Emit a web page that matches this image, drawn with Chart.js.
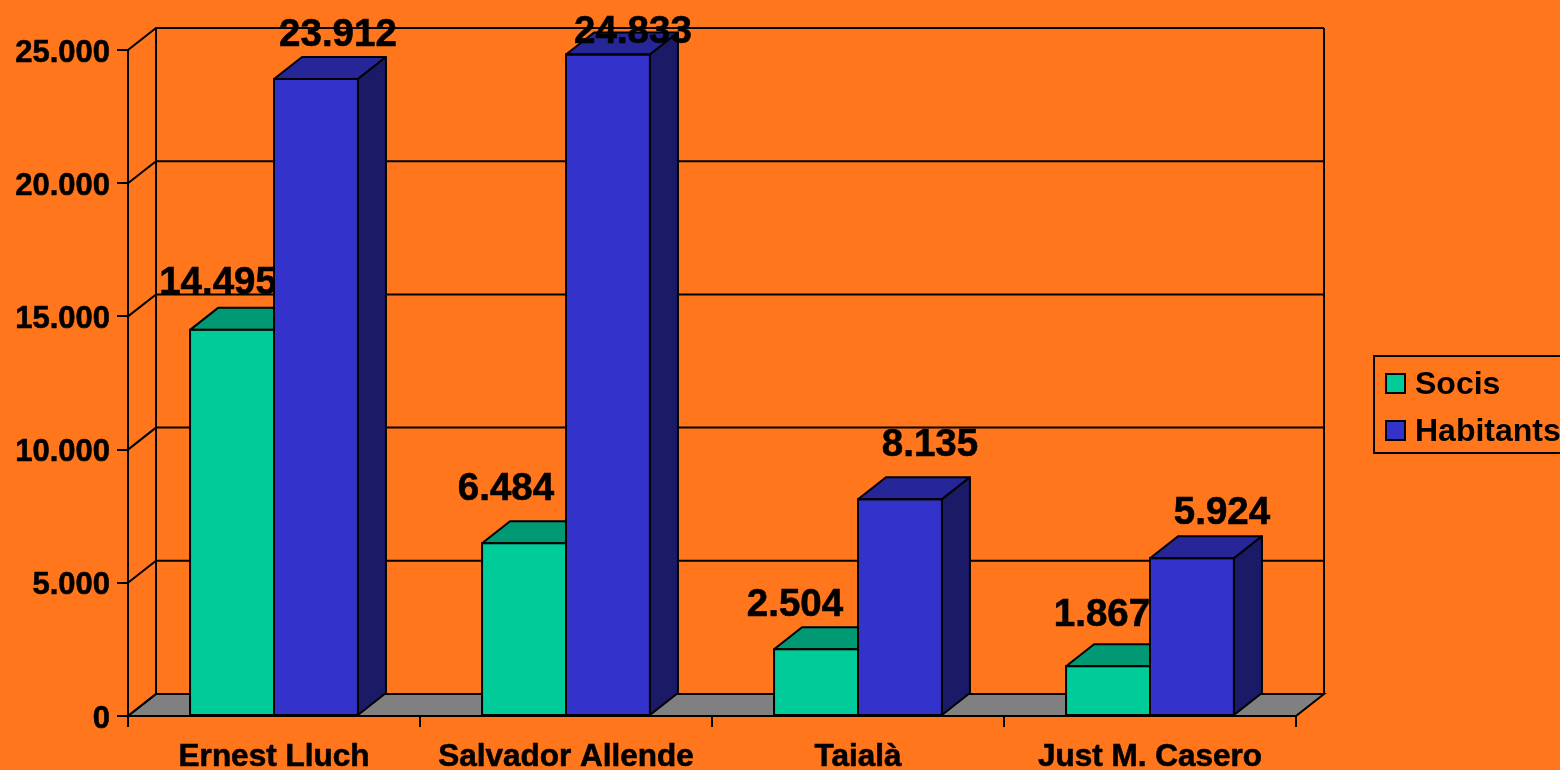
<!DOCTYPE html>
<html lang="ca">
<head>
    <meta charset="UTF-8">
    <title>Socis i habitants</title>
    <script src="https://cdn.jsdelivr.net/npm/chart.js"></script>
    <style>
        html, body { margin: 0; padding: 0; background: #FF761C; overflow: hidden; }
        canvas { display: block; }
    </style>
</head>
<body>
    <canvas id="grafico" width="1560" height="770"></canvas>
    <script>
        const categories = ["Ernest Lluch", "Salvador Allende", "Taialà", "Just M. Casero"];
        const socis = [14495, 6484, 2504, 1867];
        const habitants = [23912, 24833, 8135, 5924];
        const yTicks = [0, 5000, 10000, 15000, 20000, 25000];

        // Colors: front, top face, side face
        const colorsSocis = ["#00CC99", "#009973", "#006B50"];
        const colorsHabitants = ["#3333CC", "#262699", "#1A1A66"];

        // Depth of the fake 3D box
        const depthX = 28;
        const depthY = 22;
        const fontName = '"Liberation Sans", Arial, sans-serif';

        // Nudges of the value labels against the top of each bar
        const nudgesSocis = [[-14, -46.5], [-18, -53.5], [-21, -43.5], [-6, -51]];
        const nudgesHabitants = [[22, -44], [25, -22.5], [30, -54], [30, -45]];

        function formatNumber(v) {
            return String(v).replace(/\B(?=(\d{3})+(?!\d))/g, ".");
        }

        function poly(ctx, points, fill) {
            ctx.beginPath();
            points.forEach((p, i) => i === 0 ? ctx.moveTo(p[0], p[1]) : ctx.lineTo(p[0], p[1]));
            ctx.closePath();
            if (fill) {
                ctx.fillStyle = fill;
                ctx.fill();
            }
            ctx.stroke();
        }

        // Top and side face of every bar in a dataset
        function drawFaces(chart, index, colors) {
            const ctx = chart.ctx;
            ctx.save();
            ctx.strokeStyle = "#000";
            ctx.lineWidth = 2;
            ctx.lineJoin = "round";
            chart.getDatasetMeta(index).data.forEach(bar => {
                const left = bar.x - bar.width / 2;
                const right = bar.x + bar.width / 2;
                poly(ctx, [[left, bar.y], [left + depthX, bar.y - depthY], [right + depthX, bar.y - depthY], [right, bar.y]], colors[1]);
                poly(ctx, [[right, bar.y], [right + depthX, bar.y - depthY], [right + depthX, bar.base - depthY], [right, bar.base]], colors[2]);
            });
            ctx.restore();
        }

        // Outline of the front faces, centred on the bar edges so neighbours share one line
        function drawFronts(chart) {
            const ctx = chart.ctx;
            ctx.save();
            ctx.strokeStyle = "#000";
            ctx.lineWidth = 2;
            [0, 1].forEach(index => {
                chart.getDatasetMeta(index).data.forEach(bar => {
                    ctx.strokeRect(bar.x - bar.width / 2, bar.y, bar.width, bar.base - bar.y);
                });
            });
            ctx.restore();
        }

        function drawValues(chart, index, values, nudges) {
            const ctx = chart.ctx;
            ctx.save();
            ctx.fillStyle = "#000";
            ctx.strokeStyle = "#000";
            ctx.lineWidth = 0.6;
            ctx.font = "bold 38.5px " + fontName;
            ctx.textAlign = "center";
            ctx.textBaseline = "middle";
            chart.getDatasetMeta(index).data.forEach((bar, i) => {
                const text = formatNumber(values[i]);
                ctx.fillText(text, bar.x + nudges[i][0], bar.y + nudges[i][1]);
                ctx.strokeText(text, bar.x + nudges[i][0], bar.y + nudges[i][1]);
            });
            ctx.restore();
        }

        // Back wall, side wall and floor
        function drawBox(chart) {
            const ctx = chart.ctx;
            const a = chart.chartArea;
            const y = chart.scales.y;
            ctx.save();
            ctx.strokeStyle = "#000";
            ctx.lineWidth = 2;
            poly(ctx, [[a.left, a.bottom], [a.right, a.bottom], [a.right + depthX, a.bottom - depthY], [a.left + depthX, a.bottom - depthY]], "#808080");
            yTicks.forEach(t => {
                const py = y.getPixelForValue(t);
                ctx.beginPath();
                ctx.moveTo(a.left, py);
                ctx.lineTo(a.left + depthX, py - depthY);
                if (t > 0) ctx.lineTo(a.right + depthX, py - depthY);
                ctx.stroke();
            });
            ctx.beginPath();
            ctx.moveTo(a.left + depthX, a.bottom - depthY);
            ctx.lineTo(a.left + depthX, a.top - depthY);
            ctx.moveTo(a.right + depthX, a.top - depthY);
            ctx.lineTo(a.right + depthX, a.bottom - depthY);
            ctx.stroke();
            ctx.restore();
        }

        function drawLegend(chart) {
            const ctx = chart.ctx;
            ctx.save();
            ctx.strokeStyle = "#000";
            ctx.lineWidth = 2;
            ctx.strokeRect(1374, 356, 200, 97);
            ctx.font = "bold 32px " + fontName;
            ctx.textBaseline = "middle";
            chart.data.datasets.forEach((ds, i) => {
                const top = 374 + i * 47;
                ctx.fillStyle = ds.backgroundColor;
                ctx.fillRect(1386, top, 19, 19);
                ctx.strokeRect(1386, top, 19, 19);
                ctx.fillStyle = "#000";
                ctx.fillText(ds.label, 1415, top + 11);
            });
            ctx.restore();
        }

        const box3d = {
            id: "box3d",
            beforeDatasetsDraw(chart) {
                drawBox(chart);
                // Socis goes behind the front of Habitants, label included
                drawFaces(chart, 0, colorsSocis);
                drawValues(chart, 0, socis, nudgesSocis);
            },
            afterDatasetsDraw(chart) {
                drawFaces(chart, 1, colorsHabitants);
                drawFronts(chart);
                drawValues(chart, 1, habitants, nudgesHabitants);
                drawLegend(chart);
            }
        };

        new Chart(document.getElementById("grafico"), {
            type: "bar",
            data: {
                labels: categories,
                datasets: [
                    { label: "Socis", data: socis, backgroundColor: colorsSocis[0] },
                    { label: "Habitants", data: habitants, backgroundColor: colorsHabitants[0] }
                ]
            },
            options: {
                responsive: false,
                animation: false,
                devicePixelRatio: 1,
                layout: { padding: { top: 50, right: 264, left: 0, bottom: 0 } },
                datasets: {
                    bar: {
                        categoryPercentage: 0.575,
                        barPercentage: 1,
                        borderWidth: 0
                    }
                },
                plugins: {
                    legend: { display: false },
                    tooltip: { enabled: false }
                },
                scales: {
                    x: {
                        afterFit(scale) { scale.height = 54; },
                        grid: { drawOnChartArea: false, color: "#000", lineWidth: 2, tickLength: 11 },
                        border: { color: "#000", width: 2 },
                        ticks: {
                            color: "#000",
                            autoSkip: false,
                            maxRotation: 0,
                            padding: 11,
                            textStrokeColor: "#000",
                            textStrokeWidth: 0.6,
                            font: { family: fontName, size: 31.5, weight: "bold" }
                        }
                    },
                    y: {
                        min: 0,
                        max: 25000,
                        afterFit(scale) { scale.width = 128; },
                        grid: { drawOnChartArea: false, color: "#000", lineWidth: 2, tickLength: 11 },
                        border: { color: "#000", width: 2 },
                        ticks: {
                            stepSize: 5000,
                            color: "#000",
                            padding: 7,
                            labelOffset: 3,
                            textStrokeColor: "#000",
                            textStrokeWidth: 0.6,
                            font: { family: fontName, size: 31, weight: "bold" },
                            callback: formatNumber
                        }
                    }
                }
            },
            plugins: [box3d]
        });
    </script>
</body>
</html>
